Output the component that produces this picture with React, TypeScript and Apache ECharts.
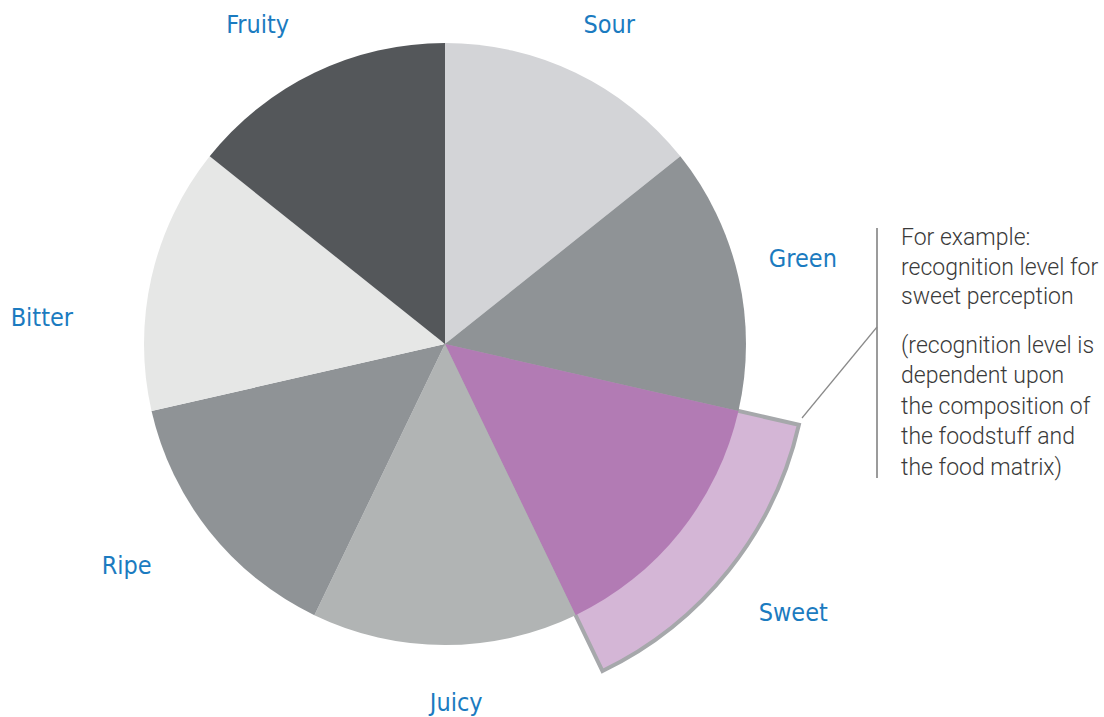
import React, { useEffect, useRef } from 'react';
import * as echarts from 'echarts';

const CATEGORIES = ['Sour', 'Green', 'Sweet', 'Juicy', 'Ripe', 'Bitter', 'Fruity'];
const VALUES = [1, 1, 1, 1, 1, 1, 1];
const COLORS = ['#d3d4d7', '#8f9396', '#b27bb4', '#b1b4b4', '#8f9396', '#e6e7e6', '#54575a'];
const HIGHLIGHT = 'Sweet';
const NOTE_1 = ['For example:', 'recognition level for', 'sweet perception'];
const NOTE_2 = ['(recognition level is', 'dependent upon', 'the composition of', 'the foodstuff and', 'the food matrix)'];

// layout
const CX = 445;
const CY = 344;
const R = 301;
const R_RING = 363;
const LABEL_RADIUS = [359, 368, 440, 359, 388, 404, 370];
const LABEL_SHIFT = [1.5, -0.6, -0.9, -1.8, 3.7, -9.1, -4.7];
const LABEL_FONT = "'Liberation Sans Narrow', 'DejaVu Sans Condensed', Roboto, sans-serif";
const NOTE_FONT = "Roboto, 'Liberation Sans', sans-serif";

export default function App() {
  const ref = useRef<HTMLDivElement>(null);
  useEffect(() => {
    if (!ref.current) return;
    const chart = echarts.init(ref.current, null, { renderer: 'svg' });
    const total = VALUES.reduce((a, b) => a + b, 0);
    const midAngle = (i: number) => {
      let before = 0;
      for (let k = 0; k < i; k++) before += VALUES[k];
      return ((before + VALUES[i] / 2) / total) * 360;
    };
    const mainData = CATEGORIES.map((c, i) => ({
      name: c,
      value: VALUES[i],
      itemStyle: { color: COLORS[i] },
    }));
    const ringData = CATEGORIES.map((c, i) => ({
      name: c,
      value: VALUES[i],
      itemStyle:
        c === HIGHLIGHT
          ? { color: '#d4b6d6', borderColor: '#a6a8ab', borderWidth: 4, borderJoin: 'miter' }
          : { color: 'rgba(0,0,0,0)', borderWidth: 0 },
    }));
    chart.setOption({
      animation: false,
      series: [
        {
          type: 'pie',
          silent: true,
          center: [CX, CY],
          radius: [0, R_RING],
          startAngle: 90,
          clockwise: true,
          label: { show: false },
          labelLine: { show: false },
          emphasis: { disabled: true },
          data: ringData,
          z: 1,
        },
        {
          type: 'pie',
          silent: true,
          center: [CX, CY],
          radius: [0, R],
          startAngle: 90,
          clockwise: true,
          avoidLabelOverlap: false,
          itemStyle: { borderWidth: 0 },
          label: {
            show: true,
            position: 'outside',
            formatter: '{b}',
            color: '#1b7bc0',
            fontSize: 25,
            fontFamily: LABEL_FONT,
          },
          labelLine: { show: false },
          labelLayout: (p: any) => {
            const i = p.dataIndex;
            const a = ((midAngle(i) + LABEL_SHIFT[i]) * Math.PI) / 180;
            return {
              x: CX + LABEL_RADIUS[i] * Math.sin(a),
              y: CY - LABEL_RADIUS[i] * Math.cos(a),
              align: 'center',
              verticalAlign: 'middle',
            };
          },
          emphasis: { disabled: true },
          data: mainData,
          z: 2,
        },
      ],
      graphic: [
        {
          type: 'line',
          shape: { x1: 877, y1: 228, x2: 877, y2: 478 },
          style: { stroke: '#9b9b9b', lineWidth: 2 },
        },
        {
          type: 'line',
          shape: { x1: 802, y1: 418, x2: 877, y2: 327 },
          style: { stroke: '#8a8a8a', lineWidth: 1.2 },
        },
        {
          type: 'text',
          x: 901,
          y: 223,
          style: {
            text: NOTE_1.join('\n'),
            font: `300 23px ${NOTE_FONT}`,
            fill: '#3a3a3a',
            lineHeight: 29.5,
            verticalAlign: 'top',
            align: 'left',
          },
        },
        {
          type: 'text',
          x: 901,
          y: 330,
          style: {
            text: NOTE_2.join('\n'),
            font: `300 23px ${NOTE_FONT}`,
            fill: '#3a3a3a',
            lineHeight: 30.5,
            verticalAlign: 'top',
            align: 'left',
          },
        },
      ],
    });
    return () => chart.dispose();
  }, []);
  return (
    <div
      ref={ref}
      style={{ position: 'fixed', left: 0, top: 0, width: 1104, height: 717, background: '#fff' }}
    />
  );
}
